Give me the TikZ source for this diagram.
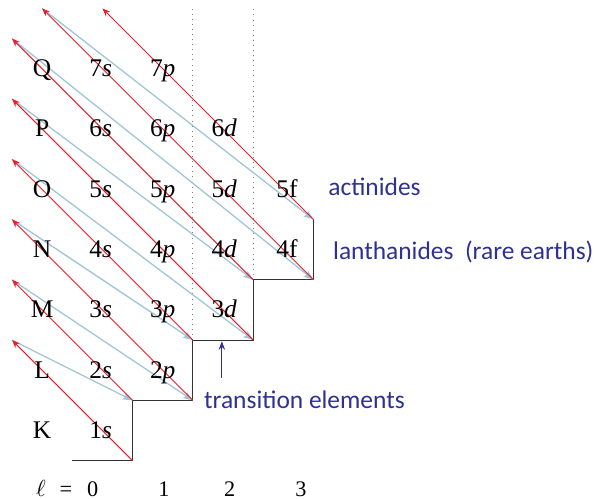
\documentclass[tikz,border=0pt]{standalone}
\usepackage{fontspec}
\setmainfont{Liberation Serif}
\newfontfamily\notefont{Carlito}
\usetikzlibrary{arrows.meta,positioning,calc}
\definecolor{aufred}{RGB}{236,30,40}
\definecolor{aufblue}{RGB}{158,196,216}
\definecolor{notenavy}{RGB}{46,49,146}

\begin{document}
\begin{tikzpicture}[x=1cm,y=1cm,
  redarr/.style={draw=aufred,line width=0.45pt,-{Stealth[length=3.8pt,width=3pt]}},
  bluearr/.style={draw=aufblue,line width=0.6pt,-{Stealth[length=4.6pt,width=3.4pt,inset=0.8pt]}},
  orb/.style={anchor=base,inner sep=0pt,font=\fontsize{12}{14}\selectfont},
  lval/.style={anchor=base,inner sep=0pt,font=\fontsize{10.5}{12}\selectfont},
  note/.style={anchor=base west,inner sep=0pt,text=notenavy,font=\notefont\fontsize{12}{14}\selectfont}]
\useasboundingbox (-0.199,-0.635) rectangle (9.735,7.640);
% starts of the diagonals (n+l = 1..8) and their ends
\foreach \n/\x/\y in {1/2/0,2/2/1,3/3/1,4/3/2,5/4/2,6/4/3,7/5/3,8/5/4}{\coordinate (st\n) at (\x,\y);}
\foreach \n/\x/\y in {1/0/2,2/0/3,3/0/4,4/0/5,5/0/6,6/0/7,7/0.5/7.5,8/1.5/7.5}{\coordinate (tp\n) at (\x,\y);}
\coordinate (base) at (1,0);\coordinate (dtop3) at (3,7.5);\coordinate (dtop4) at (4,7.5);
\draw[gray,dotted,line width=0.4pt] (st4)--(dtop3) (st6)--(dtop4);
\draw[black!80,line width=0.55pt] (base)--(st1)--(st2)--(st3)--(st4)--(st5)--(st6)--(st7)--(st8);
\foreach \a/\b in {1/2,2/3,3/4,4/5,5/6,6/7,7/8}{\draw[bluearr] (tp\a)--(st\b);}
\foreach \n in {1,...,8}{\draw[redarr] (st\n)--(tp\n);}
% shells and subshells
\foreach \t [count=\r from 0] in {K,L,M,N,O,P,Q}{\node[orb] (sh\t) at (0.5,\r+0.37) {\t};}
\foreach \n in {1,...,7}{\node[orb] (s\n) at (1.47,\n-0.63) {\n\textit{s}};}
\foreach \n in {2,...,7}{\node[orb] (p\n) at (2.5,\n-0.63) {\n\textit{p}};}
\foreach \n in {3,...,6}{\node[orb] (d\n) at (3.52,\n-0.63) {\n\textit{d}};}
\foreach \n in {4,5}{\node[orb] (f\n) at (4.56,\n-0.63) {\n f};}
% l values
\node[lval] (ell) at (0.48,-0.6) {$\ell$};\node[lval] (eq) at (0.895,-0.6) {=};
\foreach \l/\x in {0/1.34,1/2.52,2/3.61,3/4.79}{\node[lval] (l\l) at (\x,-0.6) {\l};}
% blocks
\node[note] (act) at (5.24,4.406) {actinides};
\node[note] (lan) at (5.32,3.34) {lanthanides\ \ (rare earths)};
\node[note] (trans) at (3.18,0.869) {transition elements};
\coordinate (tfoot) at (3.48,1.37);\coordinate (thead) at (3.48,1.98);
\draw[notenavy,line width=0.5pt,-{Stealth[length=4pt,width=3pt]}] (tfoot)--(thead);
\end{tikzpicture}
\end{document}
